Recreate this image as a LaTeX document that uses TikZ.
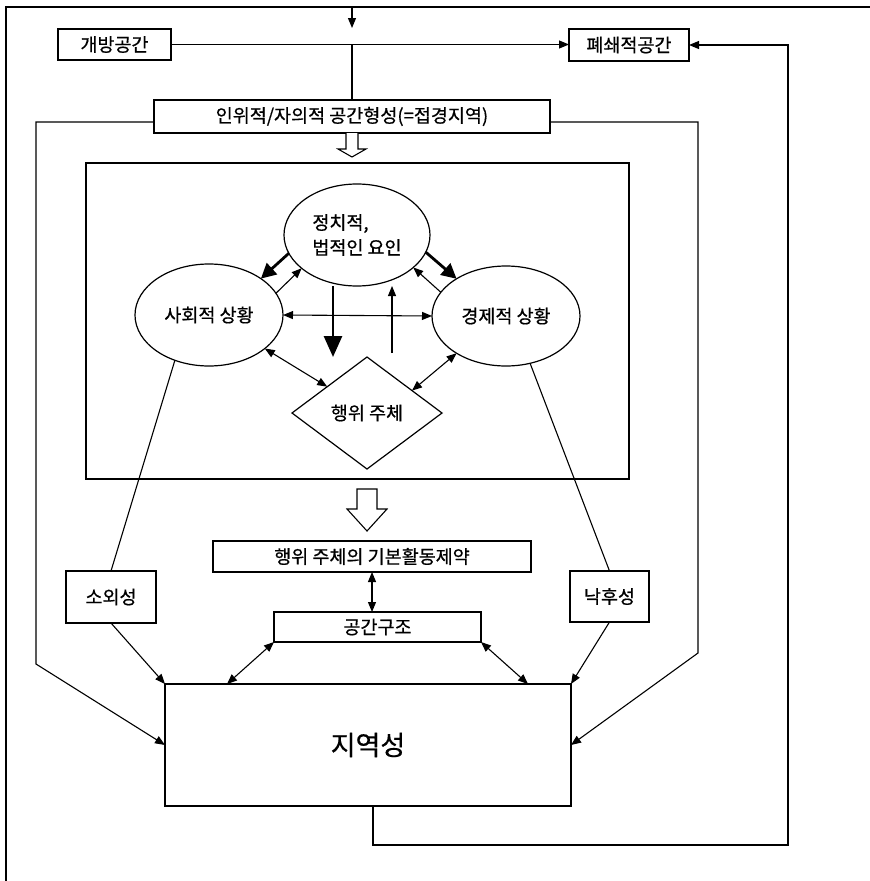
\documentclass[tikz,border=0pt]{standalone}
\usepackage{fontspec}
\setmainfont[FakeBold=0.6]{Noto Sans CJK KR}
\usetikzlibrary{arrows.meta,shapes.geometric,calc}
\newcommand\labfont{\fontsize{18.5pt}{25pt}\selectfont}
\newcommand\regfont{\fontsize{27pt}{32pt}\selectfont}
\begin{document}
\begin{tikzpicture}[x=1pt,y=-1pt,
  every node/.style={inner sep=0pt,outer sep=0pt},
  box/.style={draw,line width=1.2pt,rectangle,font=\labfont},
  oval/.style={draw,line width=1.2pt,ellipse,font=\labfont,align=left},
  ln/.style={line width=1.1pt},
  arr/.style={-{Triangle[length=10pt,width=8pt]}},
  darr/.style={{Triangle[length=10pt,width=8pt]}-{Triangle[length=10pt,width=8pt]}},
  heavy/.style={line width=2.8pt,-{Triangle[length=15pt,width=15pt]}},
  heavyv/.style={line width=2.8pt,-{Triangle[length=21pt,width=18pt]}},
  hollow/.style={draw,line width=1.1pt,fill=white}
]
\useasboundingbox (0,0) rectangle (870,881);
% outer frame
\draw[line width=1.4pt] (870,7) -- (6,7) -- (6,881);

% nodes
\node[box,minimum width=113pt,minimum height=31pt] (open) at (114.5,44.5) {개방공간};
\node[box,minimum width=120pt,minimum height=32pt] (closed) at (629,45) {폐쇄적공간};
\node[box,minimum width=396pt,minimum height=33pt] (form) at (352,116.5) {인위적/자의적 공간형성(=접경지역)};
\node[draw,line width=1.3pt,minimum width=543pt,minimum height=316pt] (inner) at (357.5,321) {};
\node[oval,minimum width=146pt,minimum height=102pt] (pol) at (357,235) {정치적,\\법적인 요인};
\node[oval,minimum width=148pt,minimum height=102pt] (soc) at (209,315) {사회적 상황};
\node[oval,minimum width=148pt,minimum height=100pt] (eco) at (506,316) {경제적 상황};
\node[draw,line width=1.2pt,diamond,aspect=1.34,minimum width=150pt,minimum height=112pt,font=\labfont] (dia) at (367,413) {행위 주체};
\node[box,minimum width=318pt,minimum height=31pt] (act) at (372,556.5) {행위 주체의 기본활동제약};
\node[box,minimum width=207pt,minimum height=30pt] (space) at (377.5,627) {공간구조};
\node[box,minimum width=90pt,minimum height=52pt] (alien) at (111,597) {소외성};
\node[box,minimum width=79pt,minimum height=51pt] (lag) at (609.5,596.5) {낙후성};
\node[box,minimum width=406pt,minimum height=122pt,font=\regfont] (reg) at (368,745) {지역성};

% coordinates for free ends / bends
\coordinate (T0) at (352,7);
\coordinate (T1) at (352,28);
\coordinate (L1) at (36,122);
\coordinate (L2) at (36,664);
\coordinate (R1) at (698,122);
\coordinate (R2) at (698,653);
\coordinate (dA) at (333,357);
\coordinate (uB) at (392,353);
\coordinate (F1) at (373,845);
\coordinate (F2) at (788,845);

% top
\draw[ln,arr] (T0) -- (T1);
\draw[ln,arr] (open.east) -- (open.east -| closed.west);
\draw[ln] (form.north |- open.east) -- (form.north);

% outer routes
\draw[ln,arr] (form.west |- L1) -- (L1) -- (L2) -- (reg.west);
\draw[ln,arr] (form.east |- R1) -- (R1) -- (R2) -- (reg.east);

% hollow arrows
\draw[hollow] ($(form.south)+(-6,0)$) -- ++(0,16) -- ++(-8,0) -- ++(14,8) -- ++(14,-8) -- ++(-8,0) -- ++(0,-16);
\draw[hollow] ($(inner.south -| dia.south)+(-10,10)$) -- ++(20,0) -- ++(0,20) -- ++(10,0) -- ++(-20,22) -- ++(-20,-22) -- ++(10,0) -- cycle;

% central arrows
\draw[heavy] (pol.195) -- (soc.35);
\draw[ln,arr] (soc.18) -- (pol.211);
\draw[heavy] (pol.346) -- (eco.143);
\draw[ln,arr] (eco.160) -- (pol.330);
\draw[heavyv] (dA |- pol.south) -- (dA);
\draw[ln,arr] (uB) -- (uB |- pol.south);
\draw[ln,darr] (soc.east) -- (eco.west);
\draw[ln,darr] (soc.-31) -- ($(dia.north)!0.53!(dia.west)$);
\draw[ln,darr] (eco.217) -- ($(dia.north)!0.6!(dia.east)$);

% lower part
\draw[ln] (soc.233) -- (alien.north);
\draw[ln] (eco.297) -- (lag.north);
\draw[ln,arr] (alien.south) -- (reg.north west);
\draw[ln,arr] (lag.south) -- (reg.north east);
\draw[ln,darr] (act.south) -- (act.south |- space.north);
\draw[ln,darr] (space.south west) -- ($(reg.north west)+(62,0)$);
\draw[ln,darr] (space.south east) -- ($(reg.north east)+(-43,0)$);

% feedback
\draw[ln,arr] (reg.south -| F1) -- (F1) -- (F2) -- (F2 |- closed.east) -- (closed.east);
\end{tikzpicture}
\end{document}
